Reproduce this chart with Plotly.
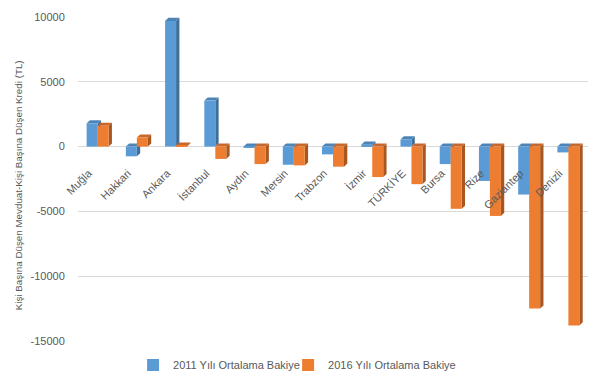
import plotly.graph_objects as go

categories = ["Muğla", "Hakkari", "Ankara", "İstanbul", "Aydın", "Mersin", "Trabzon",
              "İzmir", "TÜRKİYE", "Bursa", "Rize", "Gaziantep", "Denizli"]
values_2011 = [1800, -750, 9700, 3550, -80, -1400, -600, 150, 550, -1350, -2650, -3700, -450]
values_2016 = [1600, 700, 80, -950, -1350, -1450, -1550, -2350, -2900, -4800, -5350, -12500, -13800]
series_names = ["2011 Yılı Ortalama Bakiye", "2016 Yılı Ortalama Bakiye"]
y_ticks = [10000, 5000, 0, -5000, -10000, -15000]

front = ["#5B9BD5", "#ED7D31"]
side = ["#3F6E99", "#A9571F"]
top = ["#4C84B8", "#C9662A"]

y_min, y_max = -15000, 10000
W = 0.28          # bar width in category units
DX = 0.085        # depth in x units
DY = 240          # depth in y units

x_idx = list(range(len(categories)))
fig = go.Figure()
offsets = [-W, 0.0]
legends = ["legend", "legend2"]
for k, (name, vals) in enumerate(zip(series_names, [values_2011, values_2016])):
    fig.add_trace(go.Bar(
        x=x_idx, y=vals, name=name, width=W, offset=offsets[k], legend=legends[k],
        marker=dict(color=front[k], line=dict(width=0)),
    ))

shapes = []
for k, vals in enumerate([values_2011, values_2016]):
    for i, v in enumerate(vals):
        x0 = i + offsets[k]
        x1 = x0 + W
        p_side = f"M {x1},0 L {x1},{v} L {x1+DX},{v+DY} L {x1+DX},{DY} Z"
        yt = max(v, 0)
        p_top = f"M {x0},{yt} L {x1},{yt} L {x1+DX},{yt+DY} L {x0+DX},{yt+DY} Z"
        for p, c in [(p_side, side[k]), (p_top, top[k])]:
            shapes.append(dict(type="path", path=p, xref="x", yref="y",
                               fillcolor=c, line=dict(width=0), layer="between"))

legend_style = dict(orientation="h", xanchor="left", y=-0.074, yanchor="middle",
                    font=dict(size=11, color="#595959"), itemwidth=30,
                    bgcolor="rgba(0,0,0,0)")

fig.update_layout(
    width=602, height=368,
    margin=dict(l=70, r=22, t=9, b=35, autoexpand=False),
    paper_bgcolor="white", plot_bgcolor="white",
    font=dict(family="Liberation Sans, Arial, sans-serif", color="#595959", size=11),
    barmode="overlay",
    shapes=shapes,
    showlegend=True,
    legend=dict(x=0.108, **legend_style),
    legend2=dict(x=0.412, **legend_style),
    xaxis=dict(
        range=[-0.5, 12.5], tickmode="array", tickvals=x_idx, ticktext=categories,
        tickangle=-45, anchor="free", position=(0 - y_min) / (y_max - y_min),
        showgrid=False, zeroline=False, showline=False, automargin=False,
        ticks="outside", ticklen=15, tickcolor="rgba(0,0,0,0)",
        ticklabelshift=-9,
        tickfont=dict(size=11, color="#595959"),
    ),
    yaxis=dict(
        range=[y_min, y_max], tickmode="array", tickvals=y_ticks,
        ticktext=[str(t) for t in y_ticks], automargin=False,
        showgrid=True, gridcolor="#D9D9D9", gridwidth=1, zeroline=False, showline=False,
        ticks="outside", ticklen=10, tickcolor="rgba(0,0,0,0)",
        tickfont=dict(size=11, color="#595959"),
    ),
    annotations=[dict(
        text="Kişi Başına Düşen Mevduat-Kişi Başına Düşen Kredi (TL)",
        xref="paper", yref="paper", x=-0.116, y=0.48, xanchor="center", yanchor="middle",
        textangle=-90, showarrow=False, font=dict(size=9.8, color="#595959"),
    )],
)

fig.write_html("out.html")
